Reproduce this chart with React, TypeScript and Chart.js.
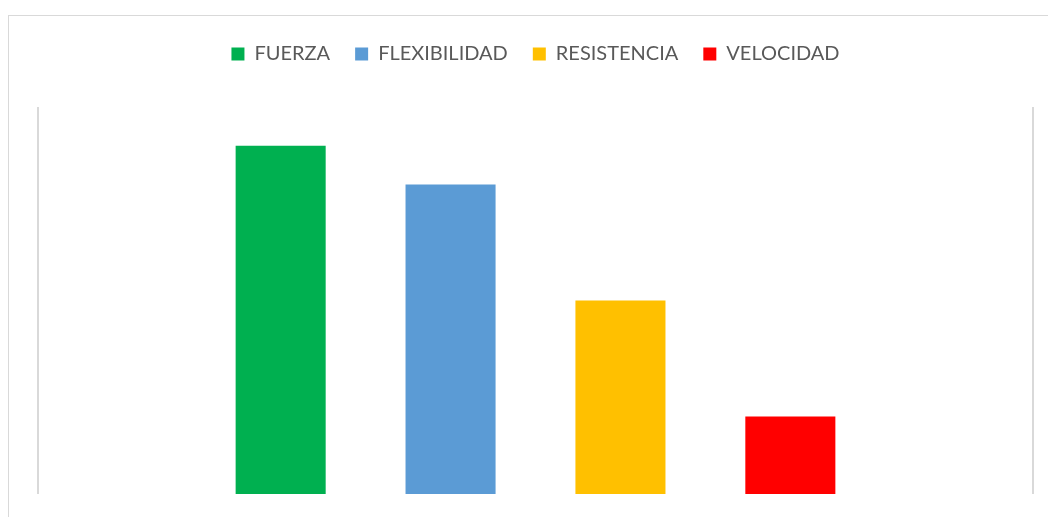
import React, { useEffect, useRef } from "react";
import { Chart, registerables } from "chart.js";

Chart.register(...registerables);

const categories: string[] = [""];
const seriesNames: string[] = ["FUERZA", "FLEXIBILIDAD", "RESISTENCIA", "VELOCIDAD"];
const fuerza: number[] = [45];
const flexibilidad: number[] = [40];
const resistencia: number[] = [25];
const velocidad: number[] = [10];
const seriesColors: string[] = ["#00B050", "#5B9BD5", "#FFC000", "#FF0000"];
const yMin = 0;
const yMax = 50;

export default function App() {
  const ref = useRef<HTMLCanvasElement | null>(null);

  useEffect(() => {
    if (!ref.current) return;
    const values = [fuerza, flexibilidad, resistencia, velocidad];
    const chart = new Chart(ref.current, {
      type: "bar",
      data: {
        labels: categories,
        datasets: seriesNames.map((name, i) => ({
          label: name,
          data: values[i],
          backgroundColor: seriesColors[i],
          borderWidth: 0,
          categoryPercentage: 0.683,
          barPercentage: 0.53,
        })),
      },
      options: {
        animation: false,
        responsive: false,
        layout: { padding: { top: 19, left: 38, right: 15, bottom: 23 } },
        plugins: {
          tooltip: { enabled: false },
          title: {
            display: true,
            text: " ",
            position: "top",
            weight: 500,
            font: { size: 10 },
            padding: { top: 11, bottom: 10 },
          },
          legend: {
            display: true,
            position: "top",
            labels: {
              boxWidth: 13,
              boxHeight: 13,
              padding: 25,
              color: "#595959",
              font: { family: "Lato", size: 20 },
            },
          },
        },
        scales: {
          x: {
            display: true,
            offset: true,
            ticks: { display: false },
            grid: { offset: true, drawTicks: false, color: "#d9d9d9", lineWidth: 2 },
            border: { display: false },
          },
          y: { display: false, min: yMin, max: yMax },
        },
      },
    });
    return () => chart.destroy();
  }, []);

  return (
    <div style={{ position: "fixed", left: 0, top: 0, width: 1048, height: 517, background: "#fff" }}>
      <div
        style={{
          position: "absolute",
          left: 8,
          top: 15,
          right: 0,
          bottom: 0,
          borderTop: "1px solid #d9d9d9",
          borderLeft: "1px solid #d9d9d9",
        }}
      />
      <canvas ref={ref} width={1048} height={517} style={{ position: "absolute", left: 0, top: 0 }} />
    </div>
  );
}
